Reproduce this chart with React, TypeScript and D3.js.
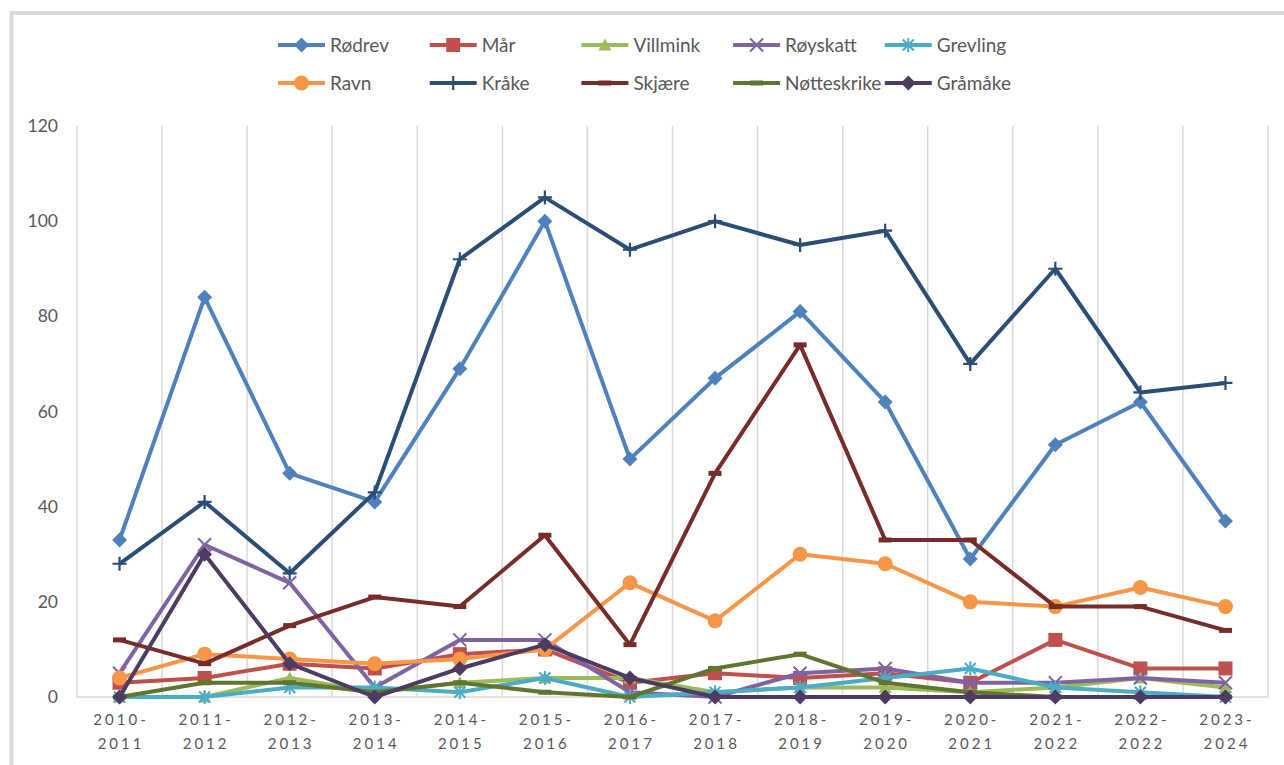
import React, { useEffect, useRef } from "react";
import * as d3 from "d3";

// Seasons on the x axis
const seasons = [
  "2010-2011", "2011-2012", "2012-2013", "2013-2014", "2014-2015", "2015-2016", "2016-2017",
  "2017-2018", "2018-2019", "2019-2020", "2020-2021", "2021-2022", "2022-2022", "2023-2024",
];

// Counts per species
const rodrev = [33, 84, 47, 41, 69, 100, 50, 67, 81, 62, 29, 53, 62, 37];
const mar = [3, 4, 7, 6, 9, 10, 3, 5, 4, 5, 3, 12, 6, 6];
const villmink = [0, 0, 4, 1, 3, 4, 4, 1, 2, 2, 1, 2, 4, 2];
const royskatt = [5, 32, 24, 2, 12, 12, 1, 0, 5, 6, 3, 3, 4, 3];
const grevling = [0, 0, 2, 2, 1, 4, 0, 1, 2, 4, 6, 2, 1, 0];
const ravn = [4, 9, 8, 7, 8, 10, 24, 16, 30, 28, 20, 19, 23, 19];
const kraake = [28, 41, 26, 43, 92, 105, 94, 100, 95, 98, 70, 90, 64, 66];
const skjaere = [12, 7, 15, 21, 19, 34, 11, 47, 74, 33, 33, 19, 19, 14];
const notteskrike = [0, 3, 3, 1, 3, 1, 0, 6, 9, 3, 1, 0, 0, 0];
const graamaake = [0, 30, 7, 0, 6, 11, 4, 0, 0, 0, 0, 0, 0, 0];

const yTicks = [0, 20, 40, 60, 80, 100, 120];

const series = [
  { name: "Rødrev", values: rodrev, color: "#4F81BD", marker: "diamond" },
  { name: "Mår", values: mar, color: "#C0504D", marker: "square" },
  { name: "Villmink", values: villmink, color: "#9BBB59", marker: "triangle" },
  { name: "Røyskatt", values: royskatt, color: "#8064A2", marker: "x" },
  { name: "Grevling", values: grevling, color: "#4BACC6", marker: "star" },
  { name: "Ravn", values: ravn, color: "#F79646", marker: "circle" },
  { name: "Kråke", values: kraake, color: "#2C4D75", marker: "plus" },
  { name: "Skjære", values: skjaere, color: "#772C2A", marker: "dash" },
  { name: "Nøtteskrike", values: notteskrike, color: "#5F7530", marker: "dash" },
  { name: "Gråmåke", values: graamaake, color: "#4D3B62", marker: "diamond" },
];

const drawMarker = (g, type, color, x, y) => {
  if (type === "diamond") {
    g.append("path").attr("d", "M0,-7.5L7.5,0L0,7.5L-7.5,0Z")
      .attr("transform", `translate(${x},${y})`).attr("fill", color);
  } else if (type === "square") {
    g.append("rect").attr("x", x - 7).attr("y", y - 7).attr("width", 14).attr("height", 14)
      .attr("fill", color);
  } else if (type === "triangle") {
    g.append("path").attr("d", "M0,-6.5L6.5,5.5L-6.5,5.5Z")
      .attr("transform", `translate(${x},${y})`).attr("fill", color);
  } else if (type === "circle") {
    g.append("circle").attr("cx", x).attr("cy", y).attr("r", 7.5).attr("fill", color);
  } else if (type === "x") {
    g.append("path").attr("d", "M-6.5,-6.5L6.5,6.5M6.5,-6.5L-6.5,6.5")
      .attr("transform", `translate(${x},${y})`).attr("stroke", color).attr("stroke-width", 2);
  } else if (type === "star") {
    g.append("path").attr("d", "M-5.5,-5.5L5.5,5.5M5.5,-5.5L-5.5,5.5M0,-7L0,7")
      .attr("transform", `translate(${x},${y})`).attr("stroke", color).attr("stroke-width", 2);
  } else if (type === "plus") {
    g.append("path").attr("d", "M-7,0L7,0M0,-7L0,7")
      .attr("transform", `translate(${x},${y})`).attr("stroke", color).attr("stroke-width", 2.2);
  } else if (type === "dash") {
    g.append("rect").attr("x", x - 6.5).attr("y", y - 2.5).attr("width", 13).attr("height", 5)
      .attr("fill", color);
  }
};

const LineChart = () => {
  const chartRef = useRef(null);

  useEffect(() => {
    d3.select(chartRef.current).select("svg").remove();

    const width = 1284;
    const height = 765;
    const left = 77;
    const right = 1268;
    const top = 126;
    const bottom = 697;
    const font = "Lato, 'Open Sans', sans-serif";

    const svg = d3
      .select(chartRef.current)
      .append("svg")
      .attr("width", width)
      .attr("height", height)
      .style("display", "block");

    svg.append("rect").attr("width", width).attr("height", height).attr("fill", "#fff");

    // Outer frame (top and left edges visible)
    svg.append("path")
      .attr("d", `M11.5,${height}L11.5,13L${width},13`)
      .attr("fill", "none")
      .attr("stroke", "#d9d9d9")
      .attr("stroke-width", 4);

    const x = d3.scaleBand().domain(seasons).range([left, right]).padding(0);
    const y = d3.scaleLinear().domain([0, 120]).range([bottom, top]);
    const cx = (s) => x(s) + x.bandwidth() / 2;

    // Vertical gridlines at category boundaries
    const bounds = seasons.map((s) => x(s)).concat([right]);
    svg.selectAll(".grid")
      .data(bounds)
      .enter()
      .append("line")
      .attr("x1", (d) => d)
      .attr("x2", (d) => d)
      .attr("y1", y(120))
      .attr("y2", bottom)
      .attr("stroke", "#d9d9d9")
      .attr("stroke-width", 1.5);

    svg.append("line")
      .attr("x1", left).attr("x2", right)
      .attr("y1", bottom).attr("y2", bottom)
      .attr("stroke", "#d9d9d9").attr("stroke-width", 1.5);

    // Y tick labels
    svg.selectAll(".ytick")
      .data(yTicks)
      .enter()
      .append("text")
      .attr("x", 58)
      .attr("y", (d) => y(d))
      .attr("dy", "0.35em")
      .attr("text-anchor", "end")
      .attr("font-family", font)
      .attr("font-size", "17.5px")
      .attr("fill", "#595959")
      .text((d) => d);

    // X tick labels, two lines
    const xl = svg.selectAll(".xtick")
      .data(seasons)
      .enter()
      .append("text")
      .attr("text-anchor", "middle")
      .attr("font-family", font)
      .attr("font-size", "15px")
      .attr("letter-spacing", "3px")
      .attr("fill", "#595959");
    xl.append("tspan").attr("x", (d) => cx(d) + 1.5).attr("y", 725).text((d) => d.split("-")[0] + "-");
    xl.append("tspan").attr("x", (d) => cx(d) + 1.5).attr("y", 749).text((d) => d.split("-")[1]);

    // Lines and markers
    const line = d3.line().x((d, i) => cx(seasons[i])).y((d) => y(d));
    series.forEach((s) => {
      const g = svg.append("g");
      g.append("path")
        .attr("d", line(s.values))
        .attr("fill", "none")
        .attr("stroke", s.color)
        .attr("stroke-width", 4)
        .attr("stroke-linejoin", "round");
      s.values.forEach((v, i) => drawMarker(g, s.marker, s.color, cx(seasons[i]), y(v)));
    });

    // Legend
    const legend = svg.append("g");
    series.forEach((s, i) => {
      const lx = 278 + (i % 5) * 151.7;
      const ly = i < 5 ? 45 : 83;
      const g = legend.append("g");
      g.append("line")
        .attr("x1", lx).attr("x2", lx + 47)
        .attr("y1", ly).attr("y2", ly)
        .attr("stroke", s.color).attr("stroke-width", 4);
      drawMarker(g, s.marker, s.color, lx + 23.5, ly);
      g.append("text")
        .attr("x", lx + 52)
        .attr("y", ly)
        .attr("dy", "0.35em")
        .attr("font-family", font)
        .attr("font-size", "19px")
        .attr("fill", "#595959")
        .text(s.name);
    });
  }, []);

  return <div ref={chartRef} style={{ position: "absolute", left: 0, top: 0 }}></div>;
};

export default function App() {
  return <LineChart />;
}
